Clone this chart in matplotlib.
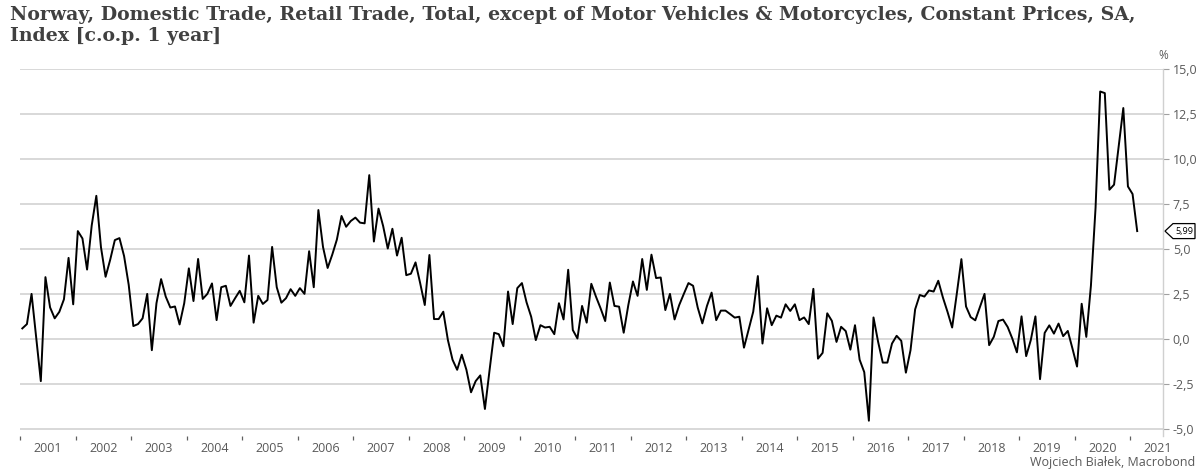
import numpy as np
import matplotlib
matplotlib.use("Agg")
import matplotlib.pyplot as plt
from matplotlib.patches import Polygon
from matplotlib.ticker import FixedLocator, FuncFormatter, NullFormatter

# monthly y/y change, Jan 2001 .. Feb 2021 (%)
START_YEAR = 2001
VALUES = [
    0.58, 0.82, 2.50, 0.10, -2.35, 3.43, 1.75, 1.14, 1.50, 2.20, 4.50, 1.92,      # 2001
    5.99, 5.58, 3.85, 6.30, 7.95, 5.10, 3.45, 4.40, 5.49, 5.60, 4.60, 3.00,       # 2002
    0.71, 0.82, 1.14, 2.50, -0.63, 1.98, 3.32, 2.35, 1.74, 1.80, 0.80, 1.98,      # 2003
    3.92, 2.10, 4.44, 2.22, 2.50, 3.08, 1.04, 2.87, 2.95, 1.83, 2.26, 2.67,       # 2004
    2.03, 4.63, 0.90, 2.39, 1.94, 2.16, 5.11, 2.87, 2.01, 2.26, 2.76, 2.39,       # 2005
    2.82, 2.50, 4.87, 2.87, 7.16, 5.11, 3.94, 4.68, 5.52, 6.83, 6.23, 6.55,       # 2006
    6.74, 6.46, 6.42, 9.10, 5.41, 7.24, 6.27, 5.02, 6.12, 4.63, 5.62, 3.54,       # 2007
    3.62, 4.25, 3.10, 1.88, 4.66, 1.10, 1.10, 1.51, -0.07, -1.16, -1.72, -0.88,   # 2008
    -1.72, -2.97, -2.35, -2.03, -3.90, -1.75, 0.34, 0.26, -0.41, 2.63, 0.82, 2.82,  # 2009
    3.10, 2.03, 1.23, -0.07, 0.76, 0.63, 0.67, 0.26, 1.98, 1.08, 3.84, 0.49,      # 2010
    0.02, 1.83, 0.90, 3.06, 2.35, 1.70, 0.99, 3.13, 1.83, 1.79, 0.34, 1.88,       # 2011
    3.19, 2.39, 4.44, 2.72, 4.68, 3.38, 3.41, 1.60, 2.50, 1.08, 1.88, 2.50,       # 2012
    3.10, 2.95, 1.74, 0.86, 1.83, 2.57, 1.04, 1.57, 1.57, 1.38, 1.18, 1.23,       # 2013
    -0.49, 0.52, 1.51, 3.49, -0.26, 1.70, 0.76, 1.29, 1.18, 1.92, 1.55, 1.92,     # 2014
    1.04, 1.19, 0.82, 2.78, -1.10, -0.78, 1.42, 1.00, -0.17, 0.67, 0.43, -0.60,   # 2015
    0.76, -1.16, -1.85, -4.55, 1.19, -0.17, -1.32, -1.32, -0.26, 0.17, -0.11, -1.88,  # 2016
    -0.63, 1.64, 2.44, 2.35, 2.69, 2.63, 3.23, 2.30, 1.50, 0.63, 2.50, 4.43,      # 2017
    1.80, 1.21, 1.03, 1.76, 2.50, -0.35, 0.11, 0.99, 1.07, 0.66, 0.02, -0.75,     # 2018
    1.25, -0.96, -0.07, 1.25, -2.24, 0.33, 0.75, 0.29, 0.85, 0.15, 0.44, -0.53,   # 2019
    -1.54, 1.95, 0.11, 2.96, 7.28, 13.75, 13.66, 8.29, 8.57, 10.68, 12.83, 8.47,  # 2020
    8.05, 5.99,                                                                   # 2021
]
YEARS = list(range(2001, 2022))
Y_TICKS = [-5.0, -2.5, 0.0, 2.5, 5.0, 7.5, 10.0, 12.5, 15.0]

TITLE = ("Norway, Domestic Trade, Retail Trade, Total, except of Motor Vehicles & Motorcycles, Constant Prices, SA,\n"
         "Index [c.o.p. 1 year]")
SOURCE = "Wojciech Białek, Macrobond"

GRID = "#d6d6d6"
TXT = "#595959"

x = START_YEAR + (np.arange(len(VALUES)) + 0.5) / 12.0
y = np.array(VALUES)

fig = plt.figure(figsize=(12.03, 4.72), dpi=100)
ax = fig.add_axes([20 / 1203, 36 / 472, 1143 / 1203, 367 / 472])

ax.plot(x, y, color="black", lw=1.4, zorder=3)

ax.set_xlim(2001.0, 2021.59)
ax.set_ylim(-5.4, 15.0)

# y axis on the right, comma decimals
ax.yaxis.tick_right()
ax.yaxis.set_major_locator(FixedLocator(Y_TICKS))
ax.yaxis.set_major_formatter(FuncFormatter(lambda v, p: f"{v:.1f}".replace(".", ",")))
ax.tick_params(axis="y", which="major", length=4, width=0.8, color="#a0a0a0",
               labelsize=9, labelcolor=TXT, pad=3)
for v in Y_TICKS:
    ax.axhline(v, color=GRID, lw=1.3, zorder=1)

# x axis: ticks on year boundaries, labels in the middle of the year
ax.xaxis.set_major_locator(FixedLocator(YEARS))
ax.xaxis.set_major_formatter(NullFormatter())
ax.xaxis.set_minor_locator(FixedLocator([yr + 0.5 for yr in YEARS]))
ax.xaxis.set_minor_formatter(FuncFormatter(lambda v, p: str(int(v))))
ax.tick_params(axis="x", which="major", length=3, width=0.9, color="#606060", direction="out")
ax.tick_params(axis="x", which="minor", length=0, labelsize=9, labelcolor=TXT, pad=4)

for s in ["top", "left", "bottom"]:
    ax.spines[s].set_visible(False)
ax.spines["right"].set_color("#d0d0d0")
ax.spines["right"].set_linewidth(1.0)

for lab in ax.get_xticklabels(minor=True) + ax.get_yticklabels():
    lab.set_fontfamily("Open Sans")

# "%" unit label above the axis
ax.text(1.0, 1.02, "%", transform=ax.transAxes, ha="center", va="bottom",
        fontsize=8.5, color=TXT, family="Open Sans")

# last value tag
last = VALUES[-1]
yt = ax.transData.transform((0, last))[1]
x0 = ax.transAxes.transform((1, 0))[0]
fig.canvas.draw()
inv = fig.transFigure.inverted()
pts_px = [(x0 + 2, yt), (x0 + 10, yt + 7.5), (x0 + 32, yt + 7.5),
          (x0 + 32, yt - 7.5), (x0 + 10, yt - 7.5)]
pts = [inv.transform(p) for p in pts_px]
fig.patches.append(Polygon(pts, closed=True, transform=fig.transFigure,
                           facecolor="white", edgecolor="black", lw=0.9, zorder=5))
cx, cy = inv.transform((x0 + 21, yt))
fig.text(cx, cy, f"{last:.2f}".replace(".", ","), ha="center", va="center",
         fontsize=6.5, color="black", family="Open Sans", zorder=6)

fig.text(10 / 1203, 1 - 6 / 472, TITLE, ha="left", va="top", fontsize=13.6,
         fontweight="bold", family="DejaVu Serif", color="#404040", linespacing=1.2)
fig.text(1 - 8 / 1203, 3 / 472, SOURCE, ha="right", va="bottom", fontsize=9,
         color=TXT, family="Open Sans")

fig.savefig("out.png", dpi=100)
